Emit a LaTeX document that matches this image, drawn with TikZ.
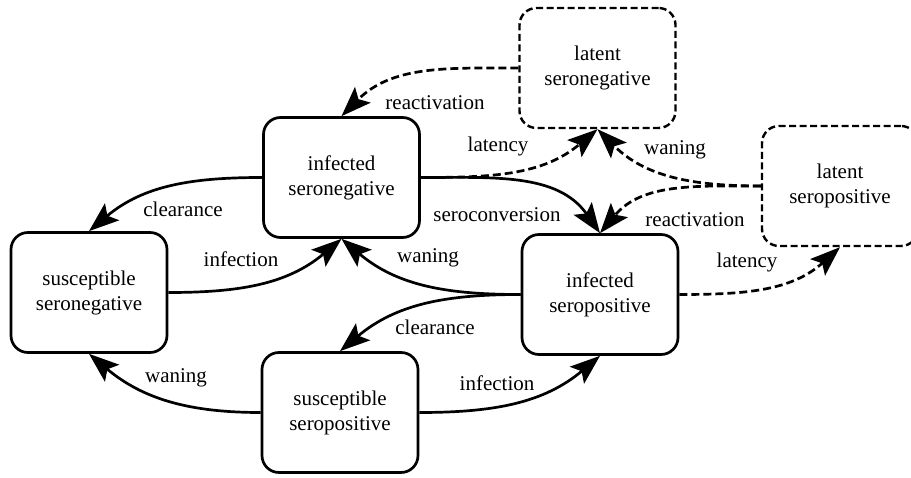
\documentclass[tikz,border=0pt]{standalone}
\usepackage{fontspec}
\setmainfont{Liberation Serif}
\usetikzlibrary{arrows.meta}
\begin{document}
\begin{tikzpicture}[x=1pt,y=1pt,
  state/.style={draw, line width=2.7pt, rounded corners=17pt, minimum width=156pt, minimum height=120pt, align=center, font=\fontsize{21}{25}\selectfont, inner sep=0pt},
  latent/.style={state, line width=2.4pt, dash pattern=on 7pt off 3.5pt},
  flow/.style={line width=2.7pt, -{Stealth[length=30pt,width=22pt,inset=6pt]}},
  dflow/.style={flow, dash pattern=on 8pt off 4pt},
  lbl/.style={font=\fontsize{21}{25}\selectfont, inner sep=0pt, anchor=base}]
\useasboundingbox (0,0) rectangle (911,477);
\node[latent] (lsn) at (597.5,409) {latent\\seronegative};
\node[latent] (lsp) at (840,291) {latent\\seropositive};
\node[state] (isn) at (341.5,299.5) {infected\\seronegative};
\node[state] (ssn) at (89,184.5) {susceptible\\seronegative};
\node[state] (isp) at (600,182.5) {infected\\seropositive};
\node[state] (ssp) at (340,64.5) {susceptible\\seropositive};

\draw[dflow] (lsn.west) to[out=180,in=45] (isn.north);
\draw[dflow] (isn.east) to[out=0,in=220] (lsn.south);
\draw[flow] (isn.east) to[out=0,in=125] (isp.north);
\draw[dflow] (lsp.west) to[out=180,in=-45] (lsn.south);
\draw[dflow] (lsp.west) to[out=180,in=50] (isp.north);
\draw[dflow] (isp.east) to[out=0,in=222] (lsp.south);
\draw[flow] (isn.west) to[out=180,in=40] (ssn.north);
\draw[flow] (ssn.east) to[out=0,in=220] (isn.south);
\draw[flow] (isp.west) to[out=180,in=-40] (isn.south);
\draw[flow] (isp.west) to[out=180,in=40] (ssp.north);
\draw[flow] (ssp.west) to[out=180,in=-40] (ssn.south);
\draw[flow] (ssp.east) to[out=0,in=220] (isp.south);

\node[lbl] (l1) at (435,367) {reactivation};
\node[lbl] (l2) at (498,325) {latency};
\node[lbl] (l3) at (497,255) {seroconversion};
\node[lbl] (l4) at (675,322) {waning};
\node[lbl] (l5) at (695,250) {reactivation};
\node[lbl] (l6) at (747,209) {latency};
\node[lbl] (l7) at (183,260) {clearance};
\node[lbl] (l8) at (241,210) {infection};
\node[lbl] (l9) at (428,214) {waning};
\node[lbl] (l10) at (435,142) {clearance};
\node[lbl] (l11) at (176,94) {waning};
\node[lbl] (l12) at (497,86) {infection};
\end{tikzpicture}
\end{document}
